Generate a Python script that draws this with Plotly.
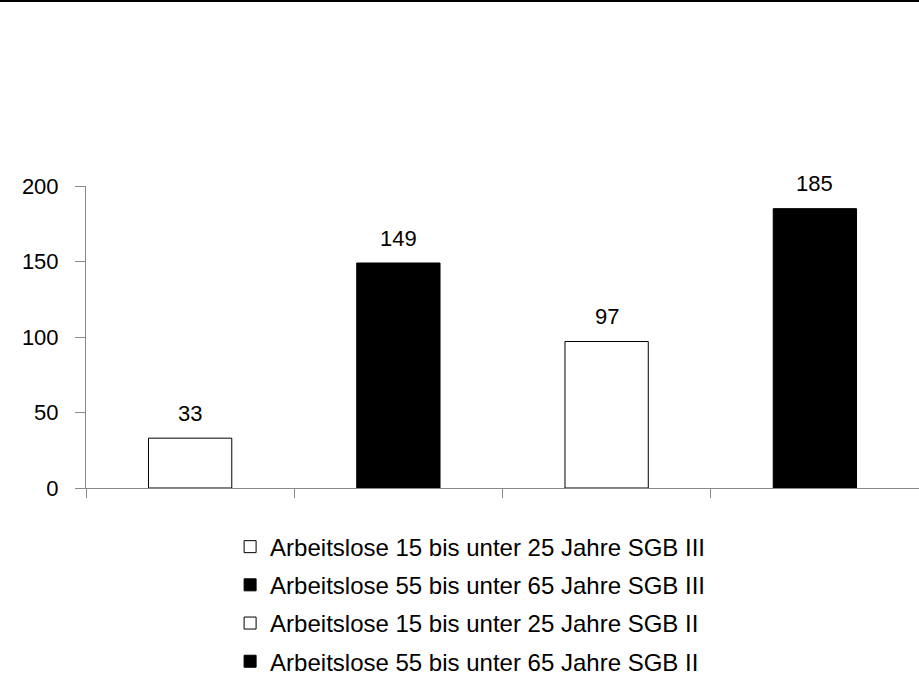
import plotly.graph_objects as go

# Data
categories = [
    "Arbeitslose 15 bis unter 25 Jahre SGB III",
    "Arbeitslose 55 bis unter 65 Jahre SGB III",
    "Arbeitslose 15 bis unter 25 Jahre SGB II",
    "Arbeitslose 55 bis unter 65 Jahre SGB II",
]
values = [33, 149, 97, 185]
y_ticks = [0, 50, 100, 150, 200]

fills = ["white", "black", "white", "black"]
FONT = "Liberation Sans, Arial, sans-serif"

fig = go.Figure()
for i, (cat, val) in enumerate(zip(categories, values)):
    fig.add_trace(go.Bar(
        x=[cat], y=[val], name=cat, width=0.4,
        legendgroup=f"g{i}",
        marker=dict(color=fills[i], line=dict(color="black", width=1)),
        showlegend=True,
    ))
    fig.add_annotation(x=cat, y=val, text=str(val), showarrow=False,
                       xref="x", yref="y", yanchor="middle", yshift=25,
                       font=dict(family=FONT, size=22, color="black"))

fig.add_shape(type="line", xref="paper", yref="paper",
              x0=-0.2, x1=1.2, y0=(488 - 1) / 302, y1=(488 - 1) / 302,
              line=dict(color="black", width=2))

fig.update_layout(
    width=919, height=698,
    margin=dict(l=86, r=0, t=186, b=210),
    paper_bgcolor="white", plot_bgcolor="white",
    barmode="overlay",
    font=dict(family=FONT, size=22, color="black"),
    showlegend=True,
    legend=dict(
        x=0.173, xanchor="left", y=-0.121, yanchor="top",
        orientation="v", tracegroupgap=4,
        font=dict(family=FONT, size=24, color="black"),
        bgcolor="rgba(0,0,0,0)",
    ),
    xaxis=dict(
        type="category", categoryorder="array", categoryarray=categories,
        range=[-0.5, 3.5], showticklabels=False,
        tickson="boundaries", ticks="outside", ticklen=9, tickcolor="#888888",
        showline=True, linecolor="#888888", linewidth=1,
        showgrid=False, zeroline=False,
    ),
    yaxis=dict(
        range=[0, 200], tickvals=y_ticks, ticks="outside", ticklen=10,
        tickcolor="#888888", showline=True, linecolor="#888888", linewidth=1,
        showgrid=False, zeroline=False, ticklabelstandoff=12,
        tickfont=dict(family=FONT, size=22, color="black"),
    ),
)

fig.write_html("out.html", config={"displayModeBar": False},
               post_script="document.body.style.margin='0';")
